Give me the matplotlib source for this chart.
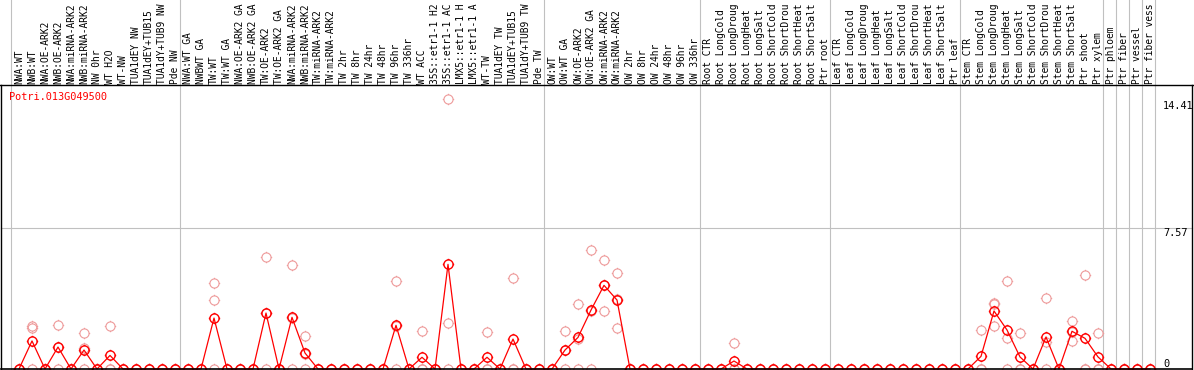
import matplotlib
matplotlib.use("Agg")
import matplotlib.pyplot as plt
import numpy as np
from matplotlib.path import Path

gene = "Potri.013G049500"

labels = ["NWA:WT", "NWB:WT", "NWA:OE-ARK2", "NWB:OE-ARK2", "NWA:miRNA-ARK2", "NWB:miRNA-ARK2",
          "NW 0hr", "WT H2O", "WT-NW", "TUA1dEY NW", "TUA1dEY+TUB15", "TUA1dY+TUB9 NW", "Pde NW",
          "NWA:WT GA", "NWBWT GA", "TW:WT", "TW:WT GA", "NWA:OE-ARK2 GA", "NWB:OE-ARK2 GA",
          "TW:OE-ARK2", "TW:OE-ARK2 GA", "NWA:miRNA-ARK2", "NWB:miRNA-ARK2", "TW:miRNA-ARK2",
          "TW:miRNA-ARK2", "TW 2hr", "TW 8hr", "TW 24hr", "TW 48hr", "TW 96hr", "TW 336hr", "WT ACC",
          "35S::etr1-1 H2", "35S::etr1-1 AC", "LMX5::etr1-1 H", "LMX5::etr1-1 A", "WT-TW",
          "TUA1dEY TW", "TUA1dEY+TUB15", "TUA1dY+TUB9 TW", "Pde TW",
          "OW:WT", "OW:WT GA", "OW:OE-ARK2", "OW:OE-ARK2 GA", "OW:miRNA-ARK2", "OW:miRNA-ARK2",
          "OW 2hr", "OW 8hr", "OW 24hr", "OW 48hr", "OW 96hr", "OW 336hr",
          "Root CTR", "Root LongCold", "Root LongDroug", "Root LongHeat", "Root LongSalt",
          "Root ShortCold", "Root ShortDrou", "Root ShortHeat", "Root ShortSalt", "Ptr root",
          "Leaf CTR", "Leaf LongCold", "Leaf LongDroug", "Leaf LongHeat", "Leaf LongSalt",
          "Leaf ShortCold", "Leaf ShortDrou", "Leaf ShortHeat", "Leaf ShortSalt", "Ptr leaf",
          "Stem CTR", "Stem LongCold", "Stem LongDroug", "Stem LongHeat", "Stem LongSalt",
          "Stem ShortCold", "Stem ShortDrou", "Stem ShortHeat", "Stem ShortSalt", "Ptr shoot",
          "Ptr xylem", "Ptr phloem", "Ptr fiber", "Ptr vessel", "Ptr fiber vess"]

# group separators sit after these columns
group_ends = [-1, 12, 40, 52, 62, 72, 83, 84, 85, 86, 87]

# mean expression per column (non-listed columns are 0)
mean_vals = {1: 1.51, 3: 1.18, 5: 1.02, 7: 0.73, 15: 2.74, 19: 3.01, 21: 2.78, 22: 0.86,
             29: 2.35, 31: 0.63, 33: 5.63, 36: 0.63, 38: 1.61, 42: 1.02, 43: 1.70, 44: 3.17,
             45: 4.50, 46: 3.71, 55: 0.43, 74: 0.68, 75: 3.12, 76: 2.10, 77: 0.65, 79: 1.72,
             81: 2.03, 82: 1.65, 83: 0.65}

# replicate values (three per column, zeros elsewhere)
rep_vals = {1: [2.31, 2.19, 0], 3: [2.35, 1.19, 0], 5: [1.94, 1.15, 0], 7: [2.29, 0, 0],
            15: [4.63, 3.69, 0], 19: [6.02, 3.01, 0], 21: [5.59, 2.75, 0], 22: [1.76, 0.82, 0],
            29: [4.72, 2.33, 0], 31: [2.03, 0, 0], 33: [14.55, 2.46, 0], 36: [1.99, 0, 0],
            38: [4.88, 0, 0], 42: [2.04, 1.02, 0], 43: [3.50, 1.60, 0], 44: [6.40, 3.11, 0],
            45: [5.85, 4.53, 3.12], 46: [5.15, 3.77, 2.21], 55: [1.38, 0, 0], 74: [2.10, 0, 0],
            75: [3.50, 3.53, 2.33], 76: [4.73, 1.65, 0], 77: [1.92, 0, 0], 79: [3.80, 1.44, 0],
            81: [2.58, 2.00, 1.51], 82: [5.04, 0, 0], 83: [1.92, 0, 0]}

y_ticks = [14.41, 7.57, 0]

n = len(labels)
x = np.arange(n)
means = np.array([mean_vals.get(i, 0.0) for i in range(n)])

# pixel geometry of the reference
W, H = 1194, 370
col0_px, col_px = 19, 13
zero_px, unit_px = 369, 18.59

def px_x(p):
    return (p - col0_px) / col_px

def px_y(p):
    return (zero_px - p) / unit_px

# circle (as polygon) with four short ticks
r = 0.8
ang = np.linspace(0, 2 * np.pi, 41)
circ_v = [(r * np.cos(a), r * np.sin(a)) for a in ang]
circ_c = [Path.MOVETO] + [Path.LINETO] * (len(ang) - 1)
tick_v = [(r, 0), (1, 0), (-r, 0), (-1, 0), (0, r), (0, 1), (0, -r), (0, -1)]
tick_c = [Path.MOVETO, Path.LINETO] * 4
marker = Path(circ_v + tick_v, circ_c + tick_c)

fig = plt.figure(figsize=(W / 100, H / 100), dpi=100)
ax = fig.add_axes([0, 0, 1, 1])
ax.set_xlim(px_x(0), px_x(W))
ax.set_ylim(px_y(H), px_y(0))
ax.axis("off")

top = px_y(85)
left, right = px_x(1), px_x(1192)

for k in group_ends:
    ax.plot([k + 5 / col_px] * 2, [px_y(H), px_y(0)], color="#c0c0c0", lw=0.8, zorder=1)

ax.plot([left, right], [7.57, 7.57], color="#c0c0c0", lw=0.8, zorder=1)
ax.plot([px_x(0), px_x(W)], [top, top], color="black", lw=1, zorder=4)
ax.plot([left, left], [px_y(H), top], color="black", lw=1, zorder=4)
ax.plot([right, right], [px_y(H), top], color="black", lw=1, zorder=4)
ax.plot([left, right], [0, 0], color="black", lw=1.2, zorder=4)

for j in range(3):
    reps = np.array([rep_vals.get(i, [0, 0, 0])[j] for i in range(n)])
    ax.plot(x, reps, ls="none", marker=marker, ms=8.2, mfc="none", mec="#ee9a9a",
            mew=0.8, zorder=2, clip_on=False)

ax.plot(x, means, color="red", lw=0.9, marker=marker, ms=8.2, mfc="none", mec="red",
        mew=1.0, zorder=3, clip_on=False)

for i, lab in enumerate(labels):
    ax.text(i, px_y(84), lab, rotation=90, ha="center", va="bottom",
            family="DejaVu Sans Mono", fontsize=6.9, color="black")

ax.text(px_x(9), px_y(97), gene, color="red", ha="left", va="center",
        family="DejaVu Sans Mono", fontsize=7.4)

for v in y_ticks:
    ax.text(px_x(1163), v, f"{v:g}", ha="left", va="bottom" if v == 0 else "top",
            family="DejaVu Sans Mono", fontsize=7.4, color="black")

fig.savefig("out.png", dpi=100)
